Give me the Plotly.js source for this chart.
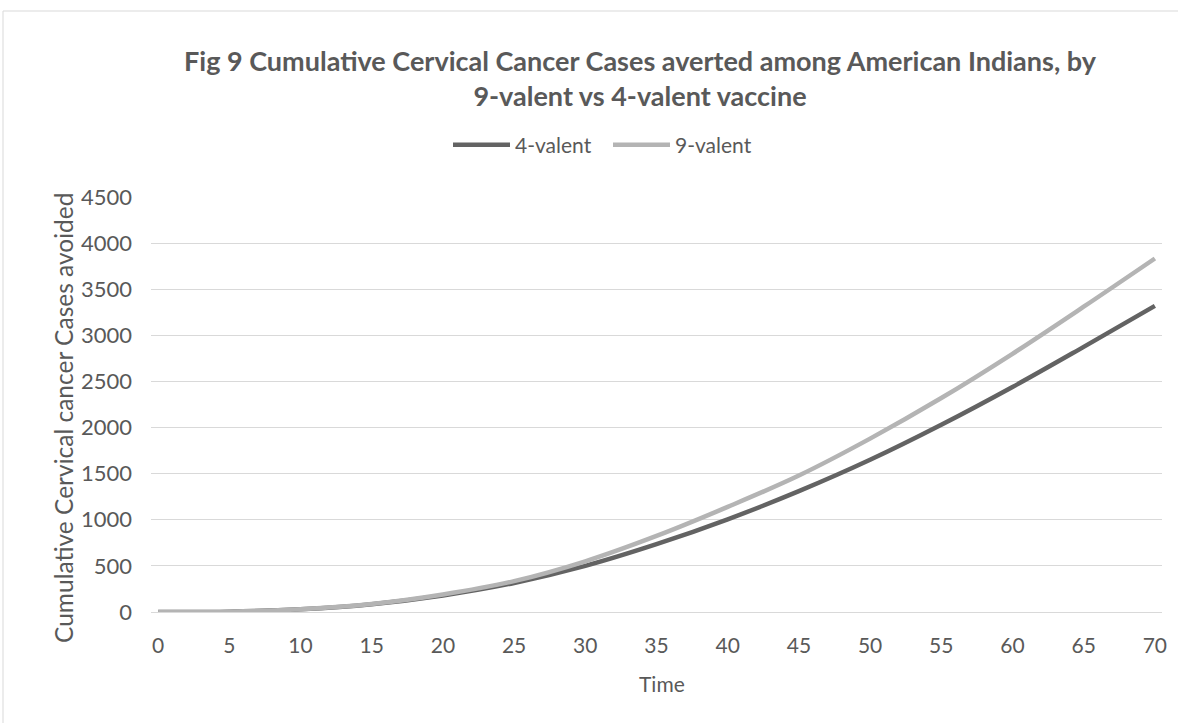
<!DOCTYPE html>
<html>
<head>
<meta charset="utf-8">
<script src="https://cdn.plot.ly/plotly-3.0.1.min.js"></script>
<style>
  html, body { margin: 0; padding: 0; background: #ffffff; }
  #chart { width: 1178px; height: 723px; }
</style>
</head>
<body>
<div id="chart"></div>
<script>
// Time (years) at which values were read
const time = [0, 5, 10, 15, 20, 25, 30, 35, 40, 45, 50, 55, 60, 65, 70];
// Cumulative cervical cancer cases avoided
const valent4 = [0, 3, 30, 85, 180, 315, 500, 735, 1005, 1310, 1650, 2030, 2440, 2875, 3319];
const valent9 = [0, 3, 30, 87, 190, 335, 550, 825, 1140, 1480, 1880, 2320, 2800, 3310, 3833];
const xTicks = [0, 5, 10, 15, 20, 25, 30, 35, 40, 45, 50, 55, 60, 65, 70];
const yTicks = [0, 500, 1000, 1500, 2000, 2500, 3000, 3500, 4000, 4500];

const FONT = 'Lato, "Open Sans", sans-serif';
const TXT = '#595959';

const traces = [
  {
    x: time, y: valent4, name: '4-valent', type: 'scatter', mode: 'lines',
    line: { color: '#636363', width: 4.5, shape: 'spline', smoothing: 1 },
    hoverinfo: 'skip'
  },
  {
    x: time, y: valent9, name: '9-valent', type: 'scatter', mode: 'lines',
    line: { color: '#b4b4b4', width: 4.5, shape: 'spline', smoothing: 1 },
    hoverinfo: 'skip'
  }
];

const layout = {
  width: 1178, height: 723,
  margin: { l: 151, r: 16, t: 197, b: 111 },
  paper_bgcolor: '#ffffff', plot_bgcolor: '#ffffff',
  font: { family: FONT, color: TXT, size: 20 },
  title: {
    text: '<b>Fig 9 Cumulative Cervical Cancer Cases averted among American Indians, by<br>9-valent vs 4-valent vaccine</b>',
    font: { family: FONT, size: 27, color: TXT },
    x: 640 / 1178, xanchor: 'center', xref: 'container',
    y: 1 - 71 / 723, yanchor: 'middle', yref: 'container'
  },
  showlegend: true,
  legend: {
    orientation: 'h', xref: 'container', yref: 'container',
    x: 448 / 1178, xanchor: 'left', y: 1 - 145 / 723, yanchor: 'middle',
    font: { family: FONT, size: 21, color: TXT },
    itemwidth: 57, entrywidth: 88, bgcolor: 'rgba(0,0,0,0)', traceorder: 'normal'
  },
  xaxis: {
    range: [-0.5, 70.5], tickmode: 'array', tickvals: xTicks,
    ticktext: xTicks.map(String),
    showgrid: false, zeroline: false,
    showline: true, linecolor: '#d9d9d9', linewidth: 1,
    ticks: '', ticklabelstandoff: 15,
    tickfont: { family: FONT, size: 21, color: TXT }
  },
  yaxis: {
    range: [0, 4500], tickmode: 'array', tickvals: yTicks,
    ticktext: yTicks.map(String),
    showgrid: true, gridcolor: '#d9d9d9', gridwidth: 1,
    zeroline: false, showline: false, ticks: '',
    ticklabelstandoff: 18,
    tickfont: { family: FONT, size: 22, color: TXT }
  },
  annotations: [
    { text: 'Cumulative Cervical cancer Cases avoided', textangle: -90,
      xref: 'paper', yref: 'paper', x: (63 - 151) / 1011, y: (612 - 418) / 415,
      xanchor: 'center', yanchor: 'middle', showarrow: false,
      font: { family: FONT, size: 24.5, color: TXT } },
    { text: 'Time',
      xref: 'paper', yref: 'paper', x: (662 - 151) / 1011, y: (612 - 683) / 415,
      xanchor: 'center', yanchor: 'middle', showarrow: false,
      font: { family: FONT, size: 21, color: TXT } }
  ],
  shapes: [
    { type: 'line', xref: 'paper', yref: 'paper', x0: (3 - 151) / 1011, x1: 1.2, y0: (612 - 11) / 415, y1: (612 - 11) / 415, line: { color: '#d9d9d9', width: 1 } },
    { type: 'line', xref: 'paper', yref: 'paper', x0: (3 - 151) / 1011, x1: (3 - 151) / 1011, y0: (612 - 11) / 415, y1: -0.4, line: { color: '#d9d9d9', width: 1 } }
  ]
};

Plotly.newPlot('chart', traces, layout, { staticPlot: true, displayModeBar: false });
</script>
</body>
</html>
